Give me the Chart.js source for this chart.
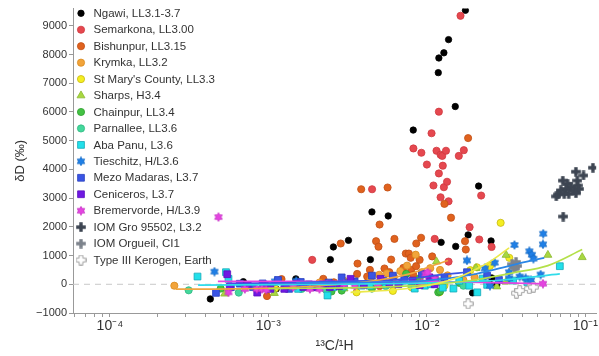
<!DOCTYPE html>
<html><head><meta charset="utf-8">
<script src="https://cdn.jsdelivr.net/npm/chart.js@4/dist/chart.umd.min.js"></script>
<style>html,body{margin:0;padding:0;background:#fff;overflow:hidden}#wrap{width:599px;height:356px}</style>
</head><body><div id="wrap"><canvas id="c" width="599" height="356"></canvas></div>
<script>
// ---------- data (x = 13C/1H, y = δD ‰) ----------
const seriesNames = ["Ngawi, LL3.1-3.7","Semarkona, LL3.00","Bishunpur, LL3.15","Krymka, LL3.2","St Mary's County, LL3.3","Sharps, H3.4","Chainpur, LL3.4","Parnallee, LL3.6","Aba Panu, L3.6","Tieschitz, H/L3.6","Mezo Madaras, L3.7","Ceniceros, L3.7","Bremervorde, H/L3.9","IOM Gro 95502, L3.2","IOM Orgueil, CI1","Type III Kerogen, Earth"];
const ngawi = [[4.3e-4,-510],[6.95e-4,90],[1.12e-3,-160],[1.49e-3,190],[2.46e-3,860],[2.57e-3,1300],[3.2e-3,1530],[4.4e-3,860],[4.5e-3,2520],[5.7e-3,2380],[8.2e-3,5370],[0.0118,7370],[0.0119,7880],[0.0123,1460],[0.0123,50],[0.0128,8060],[0.0137,8520],[0.0151,6190],[0.0152,1320],[0.0175,9540],[0.0182,1720],[0.0194,-300],[0.0212,3420],[0.0254,1510],[0.0257,220],[0.025,0],[0.0276,-20]];
const semarkona = [[1.89e-3,850],[4.51e-3,3310],[8.22e-3,4730],[9.23e-3,4580],[0.0100,4170],[0.0107,5260],[0.0110,3440],[0.0112,1580],[0.0115,4650],[0.0119,6010],[0.0119,3860],[0.0122,4510],[0.0122,3030],[0.0125,4470],[0.0126,4130],[0.0128,3380],[0.0132,4650],[0.0134,3570],[0.0137,2890],[0.0137,790],[0.0159,4470],[0.0163,9350],[0.0171,4670],[0.0186,1990],[0.0214,1560],[0.022,3090],[0.0256,1300]];
const bishunpur = [[9.8e-4,-410],[1.21e-3,180],[2.22e-3,190],[2.59e-3,70],[2.86e-3,1420],[3.63e-3,360],[3.65e-3,720],[3.85e-3,3310],[4.2e-3,270],[4.37e-3,500],[4.78e-3,1500],[4.95e-3,1310],[5.03e-3,2080],[5.03e-3,-60],[5.4e-3,550],[5.65e-3,3370],[5.8e-3,420],[5.95e-3,860],[6.24e-3,1580],[7.1e-3,570],[7.36e-3,1070],[7.7e-3,1070],[7.9e-3,920],[7.97e-3,500],[8.2e-3,330],[8.55e-3,630],[8.57e-3,1420],[9.0e-3,850],[9.19e-3,1620],[0.0108,970],[0.0129,2800],[0.0142,2320],[0.0174,1500],[0.0176,1210],[0.0182,5090]];
const krymka = [[2.55e-4,-50],[1.5e-3,-20],[2.1e-3,60],[3.0e-3,120],[3.6e-3,-30],[4.4e-3,150],[5.0e-3,330],[5.6e-3,380],[6.2e-3,260],[6.8e-3,460],[7.5e-3,650],[8.5e-3,1030],[9.3e-3,420],[0.0105,560],[0.0121,500],[0.0135,310],[0.017,150],[0.02,240]];
const stMarys = [[1.1e-3,-150],[2.5e-3,-100],[3.6e-3,-280],[6.1e-3,-230],[8.0e-3,-100],[0.012,-280],[0.0129,-50],[0.0188,490],[0.0207,590],[0.025,640],[0.0292,2140],[0.0331,920]];
const sharps = [[5.3e-4,-330],[1.09e-3,-310],[3.0e-3,-150],[0.0115,790],[0.0204,560],[0.0276,-80],[0.0316,1020],[0.0316,90],[0.058,1020],[0.0955,940]];
const chainpur = [[5e-4,-150],[1.3e-3,-100],[2.5e-3,-250],[2.9e-3,-220],[4.5e-3,-150],[7.4e-3,360],[9e-3,200],[0.0118,-280],[0.0121,-250],[0.016,50]];
const parnallee = [[3.14e-4,-210],[6.5e-4,-290],[1.0e-3,-150],[1.62e-3,-160],[2.3e-3,-180],[3.0e-3,-100],[5.5e-3,-60],[8e-3,-30],[0.012,100],[0.017,-50]];
const abaPanu = [[3.57e-4,270],[5.4e-4,420],[5.6e-4,190],[1.54e-3,-160],[2.36e-3,-390],[2.57e-3,-100],[2.9e-3,0],[3.86e-3,-50],[4.36e-3,-50],[5.53e-3,0],[8.38e-3,-150],[9.7e-3,-50],[0.0106,0],[0.0126,-120],[0.0147,-150],[0.016,120],[0.0185,-50],[0.0208,-280],[0.0225,200],[0.024,-20],[0.035,130],[0.043,80],[0.069,630]];
const tieschitz = [[4.57e-4,440],[1.1e-3,100],[1.5e-3,120],[3e-3,80],[7e-3,100],[0.0179,830],[0.0232,550],[0.025,-50],[0.0268,750],[0.033,420],[0.033,210],[0.0357,1370],[0.0385,270],[0.042,210],[0.0443,1150],[0.046,1030],[0.047,890],[0.0454,140],[0.0522,340],[0.054,1390],[0.0542,1760]];
const mezoMadaras = [[4.67e-4,-300],[5.8e-4,-100],[6.6e-4,20],[8e-4,-100],[9.2e-4,30],[1.15e-3,150],[1.35e-3,-160],[1.6e-3,80],[1.8e-3,0],[2.0e-3,-100],[2.4e-3,60],[2.9e-3,240],[3.5e-3,100],[4.5e-3,300],[5.3e-3,120],[6.1e-3,300],[7.2e-3,150],[9.3e-3,360],[0.0112,180],[0.0129,240],[0.0179,420],[0.024,300],[0.0285,150]];
const ceniceros = [[5.5e-4,350],[5.7e-4,-90],[7.4e-4,-40],[8.5e-4,-290],[9.5e-4,-60],[1.03e-3,-160],[1.26e-3,-160],[1.3e-3,-50],[1.5e-3,20],[1.66e-3,-100],[1.97e-3,-100],[2.2e-3,0],[2.44e-3,-100],[2.5e-3,0],[2.8e-3,-60],[3.3e-3,190],[4.0e-3,-20],[5.1e-3,190],[5.8e-3,20],[6.6e-3,0],[8.1e-3,130],[9.0e-3,-30],[0.0104,240],[0.0112,0]];
const bremervorde = [[4.84e-4,2340],[5.6e-4,-280],[7.1e-4,-160],[8.45e-4,-160],[9.1e-4,-160],[9.7e-4,-190],[1.43e-3,-100],[1.83e-3,-160],[2.1e-3,-160],[3.0e-3,0],[3.5e-3,-60],[4.9e-3,0],[9.3e-3,60],[9.8e-3,350],[0.0101,410],[0.0112,190],[0.054,20]];
const iomGro = [[0.0871,3920],[0.0973,3790],[0.0888,3610],[0.072,3610],[0.0894,3440],[0.0772,3500],[0.081,3380],[0.0755,3320],[0.085,3270],[0.091,3320],[0.070,3270],[0.0675,3130],[0.0735,3150],[0.0785,3150],[0.0655,3060],[0.0871,3170],[0.0725,2360],[0.1116,4060]];
const iomOrgueil = [[0.0345,700],[0.0355,600],[0.0365,780],[0.0372,640],[0.036,560]];
const kerogen = [[0.0182,-680],[0.0367,-310],[0.0385,-220],[0.0443,-150],[0.047,-100]];
// fitted trend curves
const fitStMarys = [[3.3e-3,-280],[6e-3,-200],[0.01,-50],[0.015,200],[0.02,500],[0.026,850],[0.033,1270]];
const fitSharps = [[1e-3,-150],[5e-3,-100],[0.01,-20],[0.02,150],[0.035,400],[0.058,650],[0.0955,1210]];
const fitTieschitz = [[1.5e-3,50],[5e-3,80],[0.01,130],[0.02,350],[0.03,580],[0.042,780],[0.055,920]];
const fitAbaPanu = [[3.6e-4,-30],[2e-3,0],[0.01,50],[0.03,150],[0.069,360]];
const fitKrymka = [[2.6e-4,-170],[6e-4,-160],[2e-3,-60],[5e-3,150],[8e-3,380],[0.0105,620],[0.0136,830]];
const fitBremervorde = [[4.8e-4,100],[0.01,90],[0.054,20]];
const fitMezo = [[5.5e-4,0],[2e-3,80],[8e-3,200],[0.012,330],[0.018,420]];
const fitCeniceros = [[5.5e-4,30],[2e-3,40],[6e-3,50]];
const xTickValues = [6e-5,7e-5,8e-5,9e-5,1e-4,2e-4,3e-4,4e-4,5e-4,6e-4,7e-4,8e-4,9e-4,1e-3,2e-3,3e-3,4e-3,5e-3,6e-3,7e-3,8e-3,9e-3,1e-2,2e-2,3e-2,4e-2,5e-2,6e-2,7e-2,8e-2,9e-2,1e-1];
const xMajorLabels = {"1e-4":"10⁻⁴","1e-3":"10⁻³","1e-2":"10⁻²","1e-1":"10⁻¹"};
const yTickValues = [-1000,0,1000,2000,3000,4000,5000,6000,7000,8000,9000];

// ---------- marker images ----------
function starCanvas(fill, stroke, s){
  const c=document.createElement('canvas');c.width=c.height=s;const g=c.getContext('2d');
  const r=s/2-0.6,cx=s/2,cy=s/2;g.beginPath();
  for(let i=0;i<12;i++){const a=-Math.PI/2+i*Math.PI/6;const rr=i%2===0?r:r*0.6;g.lineTo(cx+rr*Math.cos(a),cy+rr*Math.sin(a));}
  g.closePath();g.fillStyle=fill;g.fill();g.strokeStyle=stroke;g.lineWidth=0.7;g.stroke();return c;
}
function plusCanvas(fill, stroke, s, lw){
  const c=document.createElement('canvas');c.width=c.height=s;const g=c.getContext('2d');
  const t=s*0.34,a=(s-t)/2,m=lw/2+0.2,e=s-lw/2-0.2;g.beginPath();
  g.moveTo(a,m);g.lineTo(a+t,m);g.lineTo(a+t,a);g.lineTo(e,a);g.lineTo(e,a+t);g.lineTo(a+t,a+t);g.lineTo(a+t,e);g.lineTo(a,e);g.lineTo(a,a+t);g.lineTo(m,a+t);g.lineTo(m,a);g.lineTo(a,a);g.closePath();
  g.fillStyle=fill;g.fill();if(lw>0){g.strokeStyle=stroke;g.lineWidth=lw;g.stroke();}return c;
}
const starBlue=starCanvas('#1f7fe6','#1668c0',10);
const starMag=starCanvas('#e444e0','#c02cc0',10);
const plusDark=plusCanvas('#3d4552','#3d4552',10,0);
const plusGray=plusCanvas('#7d838c','#7d838c',10,0);
const plusWhite=plusCanvas('#ffffff','#a0a0a0',11,1);

const pts = a => a.map(p=>({x:p[0],y:p[1]}));
const pointSets = [
  {d:ngawi, style:'circle', r:3.2, bg:'#000000', bd:'#000000'},
  {d:semarkona, style:'circle', r:3.6, bg:'#e5484f', bd:'#d0383f'},
  {d:bishunpur, style:'circle', r:3.6, bg:'#e0621e', bd:'#c25016'},
  {d:krymka, style:'circle', r:3.6, bg:'#f2a43a', bd:'#d98c20'},
  {d:stMarys, style:'circle', r:3.6, bg:'#f4ee22', bd:'#c8b810'},
  {d:sharps, style:'triangle', r:4.6, bg:'#a8d840', bd:'#8cb830'},
  {d:chainpur, style:'circle', r:3.6, bg:'#44c244', bd:'#30a030'},
  {d:parnallee, style:'circle', r:3.6, bg:'#44d89c', bd:'#30b880'},
  {d:abaPanu, style:'rect', r:4.8, bg:'#22e0ea', bd:'#14a8b8'},
  {d:tieschitz, style:starBlue, r:5, bg:'#1f7fe6', bd:'#1f7fe6'},
  {d:mezoMadaras, style:'rect', r:4.8, bg:'#3a55e4', bd:'#2a40c0'},
  {d:ceniceros, style:'rect', r:4.8, bg:'#7018e2', bd:'#5a10c0'},
  {d:bremervorde, style:starMag, r:5, bg:'#e444e0', bd:'#e444e0'},
  {d:iomGro, style:plusDark, r:5, bg:'#3d4552', bd:'#3d4552'},
  {d:iomOrgueil, style:plusGray, r:5, bg:'#7d838c', bd:'#7d838c'},
  {d:kerogen, style:plusWhite, r:5.5, bg:'#ffffff', bd:'#a0a0a0'}
];
// later series drawn on top (higher order value = drawn first)
const datasets = pointSets.map((s,i)=>({
  label: seriesNames[i], data: pts(s.d), showLine:false, order: 20 - i,
  pointStyle: s.style, pointRadius: s.r, pointBackgroundColor: s.bg, pointBorderColor: s.bd, pointBorderWidth: 0.8,
  isSeries:true
}));
const fits = [
  [fitStMarys,'#ece84a'],[fitSharps,'#b4e04a'],[fitTieschitz,'#2a86e6'],[fitAbaPanu,'#30dcea'],
  [fitKrymka,'#f0a640'],[fitMezo,'#3a55e4'],[fitCeniceros,'#7a30e8'],[fitBremervorde,'#e444e0']
];
fits.forEach(f=>datasets.push({label:'', data:pts(f[0]), showLine:true, pointRadius:0, borderColor:f[1], borderWidth:1.7, cubicInterpolationMode:'monotone', order:0, fill:false}));
datasets.push({label:'', data:[{x:5.85e-5,y:0},{x:0.117,y:0}], showLine:true, pointRadius:0, borderColor:'#c8c8c8', borderWidth:1, borderDash:[6,5], order:30});

const legendPlugin = {
  id:'insideLegend',
  afterDraw(chart){
    const ctx=chart.ctx; ctx.save();
    ctx.font='11.5px "Liberation Sans", Arial, sans-serif'; ctx.textBaseline='middle';
    chart.data.datasets.filter(d=>d.isSeries).forEach((d,i)=>{
      const y=13.3+i*16.45, x=81;
      ctx.fillStyle=d.pointBackgroundColor; ctx.strokeStyle=d.pointBorderColor; ctx.lineWidth=0.8;
      Chart.helpers.drawPoint(ctx,{pointStyle:d.pointStyle,radius:d.pointRadius,rotation:0,borderWidth:0.8},x,y);
      ctx.fillStyle='#333'; ctx.fillText(d.label,93.5,y+0.5);
    });
    ctx.restore();
  }
};
const FONT='"Liberation Sans", Arial, sans-serif';
new Chart(document.getElementById('c'),{
  type:'scatter',
  data:{datasets},
  plugins:[legendPlugin],
  options:{
    responsive:false, animation:false, events:[],
    layout:{padding:{top:8,right:0,left:0,bottom:0}, autoPadding:false},
    plugins:{legend:{display:false}, tooltip:{enabled:false}},
    scales:{
      x:{type:'logarithmic', min:5.85e-5, max:0.117,
        afterBuildTicks:s=>{s.ticks=xTickValues.map(v=>({value:v}));},
        afterFit:s=>{s.height=43;},
        ticks:{autoSkip:false, maxRotation:0, padding:1, color:'#333', font:{family:FONT, size:14},
          callback:(v)=>{const k=Number(v).toExponential(0); return xMajorLabels[k]||'';}},
        grid:{drawOnChartArea:false, drawTicks:true, tickLength:4, color:'#999'},
        border:{color:'#999', width:1},
        title:{display:true, text:'¹³C/¹H', color:'#333', font:{family:FONT, size:14}, padding:{top:0,bottom:1}}
      },
      y:{min:-1000, max:9600,
        afterBuildTicks:s=>{s.ticks=yTickValues.map(v=>({value:v}));},
        afterFit:s=>{s.width=73;},
        ticks:{padding:2, color:'#333', font:{family:FONT, size:11},
          callback:(v)=> v<0 ? '−'+Math.abs(v) : String(v)},
        grid:{drawOnChartArea:false, drawTicks:true, tickLength:4, color:'#999'},
        border:{color:'#999', width:1},
        title:{display:true, text:'δD (‰)', color:'#333', font:{family:FONT, size:13}, padding:{top:13,bottom:0}}
      }
    }
  }
});
</script></body></html>
